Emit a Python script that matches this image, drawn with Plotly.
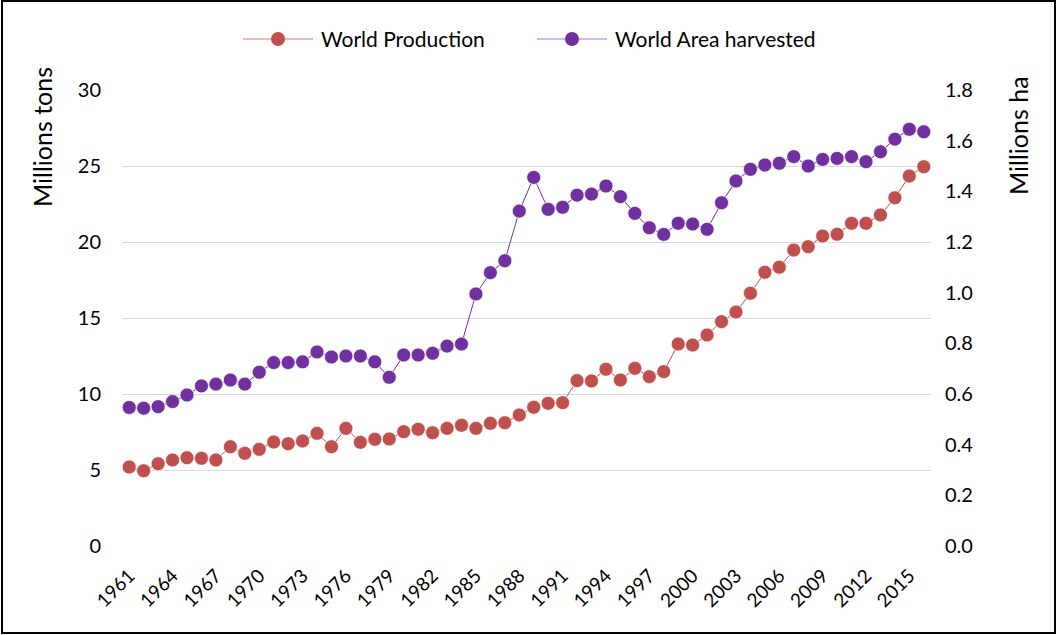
import plotly.graph_objects as go

# Years covered by the series
years = list(range(1961, 2017))

# World production, millions of tonnes
production = [
    5.20, 4.95, 5.41, 5.66, 5.81, 5.77, 5.66, 6.53, 6.10, 6.36,
    6.84, 6.73, 6.91, 7.41, 6.53, 7.74, 6.82, 7.02, 7.04, 7.52,
    7.68, 7.45, 7.74, 7.94, 7.74, 8.07, 8.11, 8.62, 9.13, 9.39,
    9.43, 10.88, 10.86, 11.63, 10.92, 11.69, 11.14, 11.47, 13.29, 13.22,
    13.88, 14.76, 15.39, 16.63, 18.01, 18.34, 19.47, 19.69, 20.39, 20.51,
    21.23, 21.23, 21.78, 22.91, 24.34, 24.95,
]

# World area harvested, millions of hectares
area = [
    0.547, 0.544, 0.550, 0.570, 0.596, 0.632, 0.639, 0.655, 0.639, 0.686,
    0.724, 0.724, 0.727, 0.766, 0.746, 0.750, 0.750, 0.727, 0.666, 0.754,
    0.754, 0.761, 0.789, 0.797, 0.995, 1.079, 1.126, 1.322, 1.455, 1.329,
    1.337, 1.385, 1.389, 1.421, 1.379, 1.313, 1.256, 1.230, 1.274, 1.271,
    1.250, 1.355, 1.441, 1.487, 1.504, 1.511, 1.537, 1.500, 1.526, 1.530,
    1.537, 1.517, 1.556, 1.606, 1.645, 1.635,
]

series_names = ["World Production", "World Area harvested"]
x_ticks = list(range(1961, 2017, 3))
left_ticks = [0, 5, 10, 15, 20, 25, 30]
right_ticks = [0.0, 0.2, 0.4, 0.6, 0.8, 1.0, 1.2, 1.4, 1.6, 1.8]

RED = "#C0504D"
PURPLE = "#7030A0"
RED_LIGHT = "#E2A5A4"
PURPLE_LIGHT = "#C3A3DB"
FONT = "Lato"

W, H = 1057, 635
ML, MR, MT, MB = 122, 126, 90, 89
PW, PH = W - ML - MR, H - MT - MB


def px_x(p):
    """Pixel column -> paper x."""
    return (p - ML) / PW


def px_y(p):
    """Pixel row -> paper y."""
    return (H - MB - p) / PH


fig = go.Figure()
fig.add_trace(go.Scatter(
    x=years, y=production, name=series_names[0],
    mode="lines+markers",
    line=dict(color=RED, width=1),
    marker=dict(color=RED, size=14, line=dict(color="rgba(255,255,255,0.7)", width=1)),
    yaxis="y", showlegend=False,
))
fig.add_trace(go.Scatter(
    x=years, y=area, name=series_names[1],
    mode="lines+markers",
    line=dict(color=PURPLE, width=1),
    marker=dict(color=PURPLE, size=14, line=dict(color="rgba(255,255,255,0.7)", width=1)),
    yaxis="y2", showlegend=False,
))

# Legend drawn as line + dot + label, centred across the top
legend_items = [
    (series_names[0], RED, RED_LIGHT, 243),
    (series_names[1], PURPLE, PURPLE_LIGHT, 537),
]
LEG_Y = 39
R = 7
for label, col, light, x_start in legend_items:
    fig.add_shape(type="line", xref="paper", yref="paper",
                  x0=px_x(x_start), x1=px_x(x_start + 70), y0=px_y(LEG_Y), y1=px_y(LEG_Y),
                  line=dict(color=light, width=1.5))
    cx = x_start + 35
    fig.add_shape(type="circle", xref="paper", yref="paper",
                  x0=px_x(cx - R), x1=px_x(cx + R), y0=px_y(LEG_Y + R), y1=px_y(LEG_Y - R),
                  fillcolor=col, line=dict(color=col, width=0))
    fig.add_annotation(text=label, xref="paper", yref="paper",
                       x=px_x(x_start + 76), y=px_y(LEG_Y), xanchor="left", yanchor="middle",
                       showarrow=False, font=dict(family=FONT, size=21, color="#000000"))

# Axis titles, set high on each side
fig.add_annotation(text="Millions tons", xref="paper", yref="paper",
                   x=px_x(42), y=px_y(137), xanchor="center", yanchor="middle",
                   textangle=-90, showarrow=False,
                   font=dict(family=FONT, size=25, color="#000000"))
fig.add_annotation(text="Millions ha", xref="paper", yref="paper",
                   x=px_x(1018), y=px_y(136), xanchor="center", yanchor="middle",
                   textangle=-90, showarrow=False,
                   font=dict(family=FONT, size=25, color="#000000"))

# Outer frame around the whole chart
fig.add_shape(
    type="rect", xref="paper", yref="paper",
    x0=px_x(2), x1=px_x(1055), y0=px_y(633), y1=px_y(1),
    line=dict(color="black", width=2), fillcolor="rgba(0,0,0,0)",
    layer="above",
)

fig.update_layout(
    width=W, height=H,
    margin=dict(l=ML, r=MR, t=MT, b=MB),
    paper_bgcolor="white", plot_bgcolor="white",
    font=dict(family=FONT, size=20, color="#000000"),
    showlegend=False,
    xaxis=dict(
        range=[1960.5, 2016.5], tickvals=x_ticks, ticktext=[str(v) for v in x_ticks],
        tickangle=-45, showgrid=False, zeroline=False, showline=False, ticks="",
        ticklabelstandoff=14,
        tickfont=dict(family=FONT, size=19),
    ),
    yaxis=dict(
        range=[0, 30], tickvals=left_ticks, showgrid=True, gridcolor="#D9D9D9", gridwidth=1,
        zeroline=False, showline=False, ticks="", ticklabelstandoff=20,
        tickfont=dict(family=FONT, size=20),
    ),
    yaxis2=dict(
        range=[0, 1.8], tickvals=right_ticks, ticktext=[f"{v:.1f}" for v in right_ticks],
        overlaying="y", side="right", showgrid=False, zeroline=False, showline=False, ticks="",
        ticklabelstandoff=13,
        tickfont=dict(family=FONT, size=20),
    ),
)

fig.write_html("out.html")
